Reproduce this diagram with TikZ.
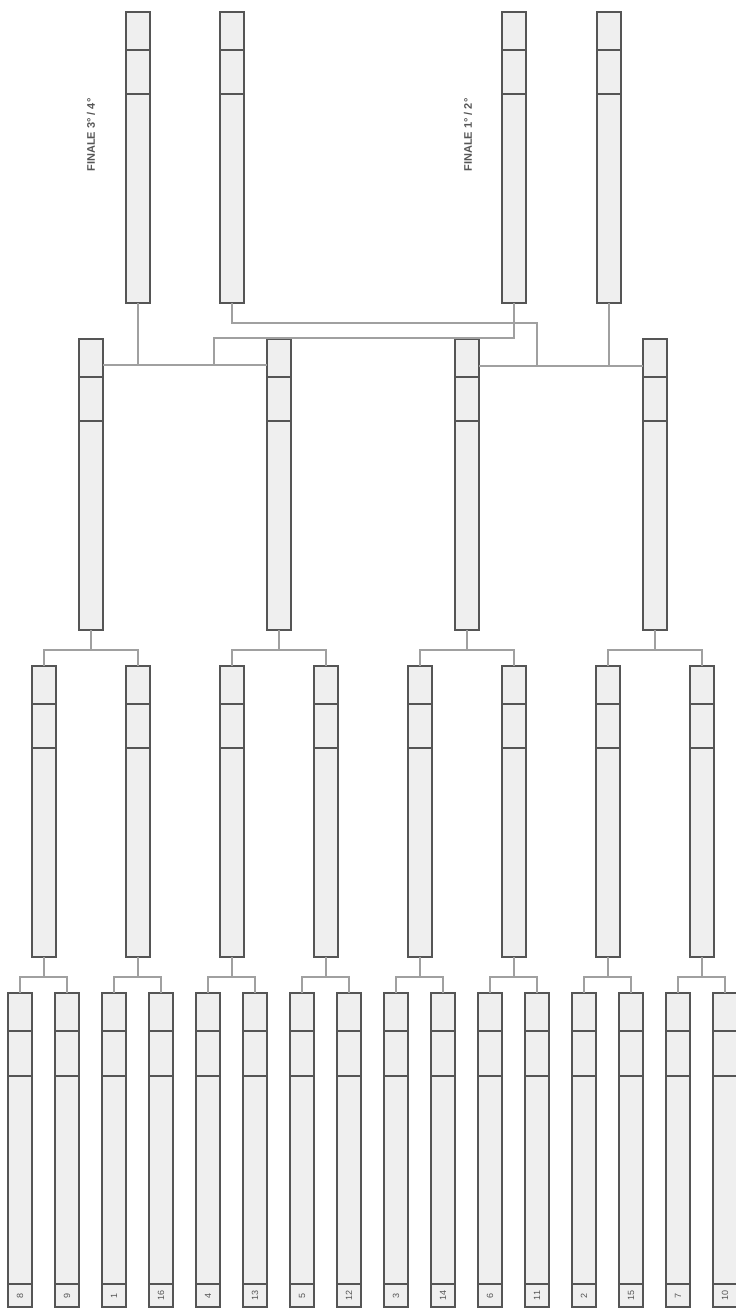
\documentclass[tikz,border=0pt]{standalone}
\usepackage{fontspec}
\setmainfont{Liberation Sans}
\begin{document}
\begin{tikzpicture}[x=1pt,y=-1pt,
  bx/.style={draw=bdr,fill=boxfill,line width=1.4pt,minimum width=24pt,minimum height=291pt,inner sep=0pt,outer sep=0pt},
  conn/.style={draw=cgray,line width=1.4pt},
  divl/.style={draw=bdr,line width=1.4pt},
  num/.style={rotate=90,font=\fontsize{9}{9}\selectfont,text=numc,inner sep=0pt},
  ttl/.style={rotate=90,font=\fontsize{11}{11}\selectfont\bfseries,text=numc,inner sep=0pt}]
\definecolor{bdr}{HTML}{555555}
\definecolor{boxfill}{HTML}{EFEFEF}
\definecolor{cgray}{HTML}{A0A0A0}
\definecolor{numc}{HTML}{555555}
\useasboundingbox (0,0) rectangle (736,1310);
% finals
\foreach \n/\x in {1/138,2/232,3/514,4/609}{
  \node[bx] (f\n) at (\x,157.5) {};
  \draw[divl] ([yshift=-38pt]f\n.north west) -- ([yshift=-38pt]f\n.north east);
  \draw[divl] ([yshift=-82pt]f\n.north west) -- ([yshift=-82pt]f\n.north east);
}
% round 3
\foreach \k in {0,...,3}{
  \pgfmathsetmacro{\xx}{91+188*\k}
  \node[bx] (r3-\k) at (\xx,484.5) {};
  \draw[divl] ([yshift=-38pt]r3-\k.north west) -- ([yshift=-38pt]r3-\k.north east);
  \draw[divl] ([yshift=-82pt]r3-\k.north west) -- ([yshift=-82pt]r3-\k.north east);
}
% round 2
\foreach \k in {0,...,7}{
  \pgfmathsetmacro{\xx}{44+94*\k}
  \node[bx] (r2-\k) at (\xx,811.5) {};
  \draw[divl] ([yshift=-38pt]r2-\k.north west) -- ([yshift=-38pt]r2-\k.north east);
  \draw[divl] ([yshift=-82pt]r2-\k.north west) -- ([yshift=-82pt]r2-\k.north east);
}
% round 1
\foreach \k/\lab in {0/8,1/9,2/1,3/16,4/4,5/13,6/5,7/12,8/3,9/14,10/6,11/11,12/2,13/15,14/7,15/10}{
  \pgfmathsetmacro{\xx}{20+47*\k}
  \node[bx,minimum height=314pt] (r1-\k) at (\xx,1150) {};
  \draw[divl] ([yshift=-38pt]r1-\k.north west) -- ([yshift=-38pt]r1-\k.north east);
  \draw[divl] ([yshift=-83pt]r1-\k.north west) -- ([yshift=-83pt]r1-\k.north east);
  \draw[divl] ([yshift=23pt]r1-\k.south west) -- ([yshift=23pt]r1-\k.south east);
  \node[num] (l-\k) at ([yshift=11.5pt]r1-\k.south) {\lab};
}
% round1 -> round2 connectors
\foreach \k in {0,...,7}{
  \pgfmathtruncatemacro{\a}{2*\k}
  \pgfmathtruncatemacro{\b}{2*\k+1}
  \draw[conn] (r1-\a.north) -- ++(0,-16) -| (r1-\b.north);
  \draw[conn] (r2-\k.south) -- (r2-\k.south |- 0,977);
}
% round2 -> round3 connectors
\foreach \k in {0,...,3}{
  \pgfmathtruncatemacro{\a}{2*\k}
  \pgfmathtruncatemacro{\b}{2*\k+1}
  \draw[conn] (r2-\a.north) -- ++(0,-16) -| (r2-\b.north);
  \draw[conn] (r3-\k.south) -- (r3-\k.south |- 0,650);
}
% semifinal connectors
\coordinate (s1) at (214,365);
\coordinate (s2) at (537,366);
\draw[conn] (r3-0.east |- 0,365) -- (r3-1.west |- 0,365);
\draw[conn] (f1.south) -- (f1.south |- 0,365);
\draw[conn] (s1) -- (214,338) -| (f3.south);
\draw[conn] (r3-2.east |- 0,366) -- (r3-3.west |- 0,366);
\draw[conn] (f4.south) -- (f4.south |- 0,366);
\draw[conn] (s2) -- (537,323) -| (f2.south);
% titles
\node[ttl] (t34) at (91,135) {FINALE 3° / 4°};
\node[ttl] (t12) at (468,135) {FINALE 1° / 2°};
\end{tikzpicture}
\end{document}
